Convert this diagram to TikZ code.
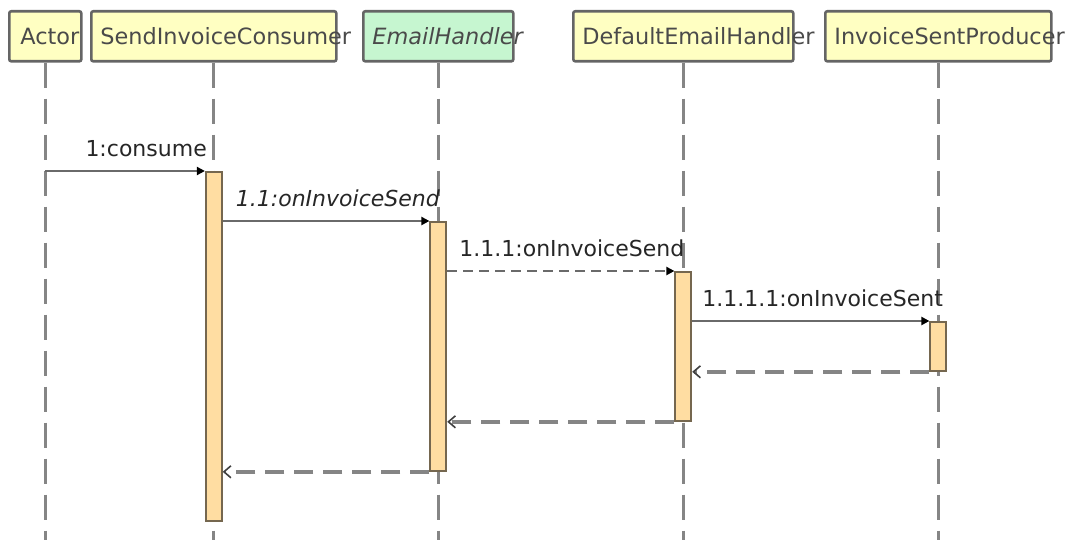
\documentclass[tikz,border=0pt]{standalone}
\usepackage{fontspec}
\setmainfont{DejaVu Sans}
\usetikzlibrary{arrows.meta}

\definecolor{headfill}{HTML}{FFFFC2}
\definecolor{ifacefill}{HTML}{C6F6D0}
\definecolor{headdraw}{HTML}{656565}
\definecolor{barfill}{HTML}{FFDDA2}
\definecolor{bardraw}{HTML}{75674F}
\definecolor{lifegray}{HTML}{858585}
\definecolor{msggray}{HTML}{6A6A6A}
\definecolor{textgray}{HTML}{4A4A4A}

\tikzset{
  head/.style={draw=headdraw, fill=headfill, line width=1.3pt, minimum height=25pt,
    rounded corners=1pt, inner sep=0pt, anchor=north west},
  headtext/.style={anchor=west, inner sep=0pt, text=textgray, xshift=5pt,
    font=\fontsize{11.2}{13}\selectfont},
  lifeline/.style={draw=lifegray, line width=1.4pt, dash pattern=on 12.5pt off 5.5pt},
  bar/.style={draw=bardraw, fill=barfill, line width=0.9pt, minimum width=8pt,
    inner sep=0pt, anchor=north},
  call/.style={draw=msggray, line width=1.2pt, -{Triangle[length=4pt,width=4pt,black]}},
  async/.style={call, dash pattern=on 5pt off 3pt},
  back/.style={draw=lifegray, line width=1.9pt, dash pattern=on 9.5pt off 5pt,
    -{Straight Barb[length=3.5pt,width=6pt,line width=0.8pt,black!75]}},
  msg/.style={anchor=base west, inner sep=0pt, text=black!85,
    font=\fontsize{11}{13}\selectfont, yshift=7.5pt}
}

\begin{document}
\begin{tikzpicture}[x=0.5pt,y=-0.5pt]
  \useasboundingbox (0,0) rectangle (1065,540);

  % object heads
  \node[head, minimum width=36pt]    (hA) at (8,10) {};
  \node[head, minimum width=122.5pt] (hS) at (90,10) {};
  \node[head, minimum width=75pt, fill=ifacefill] (hE) at (362,10) {};
  \node[head, minimum width=110pt]   (hD) at (572,10) {};
  \node[head, minimum width=113pt]   (hP) at (824,10) {};
  \node[headtext, xshift=1pt] (tA) at (hA.west) {Actor};
  \node[headtext] (tS) at (hS.west) {SendInvoiceConsumer};
  \node[headtext] (tE) at (hE.west) {\itshape EmailHandler};
  \node[headtext] (tD) at (hD.west) {DefaultEmailHandler};
  \node[headtext] (tP) at (hP.west) {InvoiceSentProducer};

  % lifelines
  \foreach \h in {hA,hS,hE,hD,hP}
    \draw[lifeline] (\h.south) -- (\h.south |- 0,540);

  % activations
  \node[bar, minimum height=174.5pt] (b1) at (hS.south |- 0,171) {};
  \node[bar, minimum height=124.5pt] (b2) at (hE.south |- 0,221) {};
  \node[bar, minimum height=74.5pt]  (b3) at (hD.south |- 0,271) {};
  \node[bar, minimum height=24.5pt]  (b4) at (hP.south |- 0,321) {};

  % calls
  \coordinate (m1) at (hA.south |- b1.north);
  \draw[call] (m1) -- (b1.north west)
    node[msg, pos=0, xshift=19.5pt] {1:consume};
  \draw[call] (b1.east |- b2.north) -- (b2.north west)
    node[msg, pos=0, xshift=6pt] {\itshape 1.1:onInvoiceSend};
  \draw[async] (b2.east |- b3.north) -- (b3.north west)
    node[msg, pos=0, xshift=5.5pt] {1.1.1:onInvoiceSend};
  \draw[call] (b3.east |- b4.north) -- (b4.north west)
    node[msg, pos=0, xshift=4.5pt] {1.1.1.1:onInvoiceSent};

  % returns
  \draw[back] (b4.south west) -- (b3.east |- b4.south);
  \draw[back] (b3.south west) -- (b2.east |- b3.south);
  \draw[back] (b2.south west) -- (b1.east |- b2.south);
\end{tikzpicture}
\end{document}
